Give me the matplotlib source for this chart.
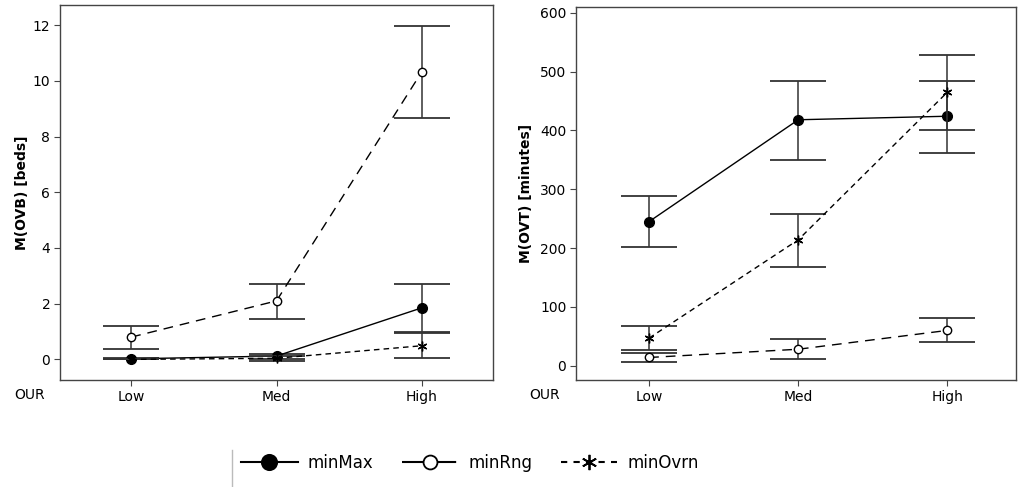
import matplotlib

matplotlib.use("Agg")
import matplotlib.pyplot as plt
from matplotlib.lines import Line2D

levels = ["Low", "Med", "High"]

# Mean overflow beds per OUR level, with CI bounds
ovb_minmax = [0.02, 0.12, 1.85]
ovb_minmax_lo = [0.0, 0.02, 0.99]
ovb_minmax_hi = [0.04, 0.21, 2.70]
ovb_minrng = [0.80, 2.10, 10.32]
ovb_minrng_lo = [0.38, 1.46, 8.67]
ovb_minrng_hi = [1.20, 2.70, 11.95]
ovb_minovrn = [0.0, 0.04, 0.49]
ovb_minovrn_lo = [0.0, -0.05, 0.05]
ovb_minovrn_hi = [0.0, 0.12, 0.93]

# Mean overflow time in minutes per OUR level, with CI bounds
ovt_minmax = [245, 418, 424]
ovt_minmax_lo = [202, 350, 362]
ovt_minmax_hi = [288, 484, 484]
ovt_minrng = [14, 28, 60]
ovt_minrng_lo = [6, 11, 40]
ovt_minrng_hi = [21, 45, 81]
ovt_minovrn = [47, 214, 465]
ovt_minovrn_lo = [27, 168, 401]
ovt_minovrn_hi = [67, 258, 528]

styles = {
    "minMax": dict(ls="-", marker="o", mfc="black", ms=7),
    "minRng": dict(ls=(0, (7, 5)), marker="o", mfc="white", ms=6),
    "minOvrn": dict(ls=(0, (4, 3)), marker=(6, 2, 0), mfc="black", ms=7),
}
# legend handles use their own dash patterns
legend_ls = {"minMax": "-", "minRng": (0, (12, 2)), "minOvrn": (0, (3, 3))}

plt.rcParams["font.family"] = "DejaVu Sans"
fig = plt.figure(figsize=(10.19, 4.87), dpi=100)
ax1 = fig.add_axes([0.0589, 0.2197, 0.4249, 0.77])
ax2 = fig.add_axes([0.5653, 0.2197, 0.4318, 0.766])

x = list(range(len(levels)))


def draw(ax, series):
    for name, mean, lo, hi in series:
        st = styles[name]
        yerr = [[m - l for m, l in zip(mean, lo)], [h - m for m, h in zip(mean, hi)]]
        ax.errorbar(x, mean, yerr=yerr, fmt="none", ecolor="#333333",
                    elinewidth=1.1, capsize=20, capthick=1.3)
        ax.plot(x, mean, color="black", lw=1.0, ls=st["ls"], marker=st["marker"],
                mfc=st["mfc"], mec="black", ms=st["ms"], mew=1.0)
    ax.set_xticks(x)
    ax.set_xticklabels(levels)
    ax.tick_params(labelsize=10, length=4, color="#444444", pad=3)
    for s in ax.spines.values():
        s.set_color("#444444")
        s.set_linewidth(1.0)


draw(ax1, [
    ("minMax", ovb_minmax, ovb_minmax_lo, ovb_minmax_hi),
    ("minRng", ovb_minrng, ovb_minrng_lo, ovb_minrng_hi),
    ("minOvrn", ovb_minovrn, ovb_minovrn_lo, ovb_minovrn_hi),
])
ax1.set_xlim(-0.49, 2.49)
ax1.set_ylim(-0.74, 12.72)
ax1.set_yticks([0, 2, 4, 6, 8, 10, 12])
ax1.set_ylabel("M(OVB) [beds]", fontsize=10, fontweight="bold", labelpad=3)

draw(ax2, [
    ("minMax", ovt_minmax, ovt_minmax_lo, ovt_minmax_hi),
    ("minRng", ovt_minrng, ovt_minrng_lo, ovt_minrng_hi),
    ("minOvrn", ovt_minovrn, ovt_minovrn_lo, ovt_minovrn_hi),
])
ax2.set_xlim(-0.49, 2.46)
ax2.set_ylim(-24.3, 609.7)
ax2.set_yticks([0, 100, 200, 300, 400, 500, 600])
ax2.set_ylabel("M(OVT) [minutes]", fontsize=10, fontweight="bold", labelpad=5)

fig.text(30 / 1019, 1 - 395 / 487, "OUR", fontsize=10, ha="center", va="center")
fig.text(545 / 1019, 1 - 395 / 487, "OUR", fontsize=10, ha="center", va="center")

handles = [
    Line2D([0], [0], color="black", lw=1.5, ls=legend_ls[n], marker=styles[n]["marker"],
           mfc=styles[n]["mfc"], mec="black", ms=styles[n]["ms"] + 4, mew=1.3, label=n)
    for n in styles
]
fig.legend(handles=handles, loc="center", bbox_to_anchor=(0.461, 0.05), ncol=3,
           frameon=False, fontsize=12, handlelength=3.4, columnspacing=1.7,
           handletextpad=0.6)
fig.add_artist(Line2D([232 / 1019, 232 / 1019], [0.0, 1 - 450 / 487],
                      color="#bbbbbb", lw=1.0, transform=fig.transFigure))

fig.savefig("out.png", dpi=100)
plt.close(fig)
